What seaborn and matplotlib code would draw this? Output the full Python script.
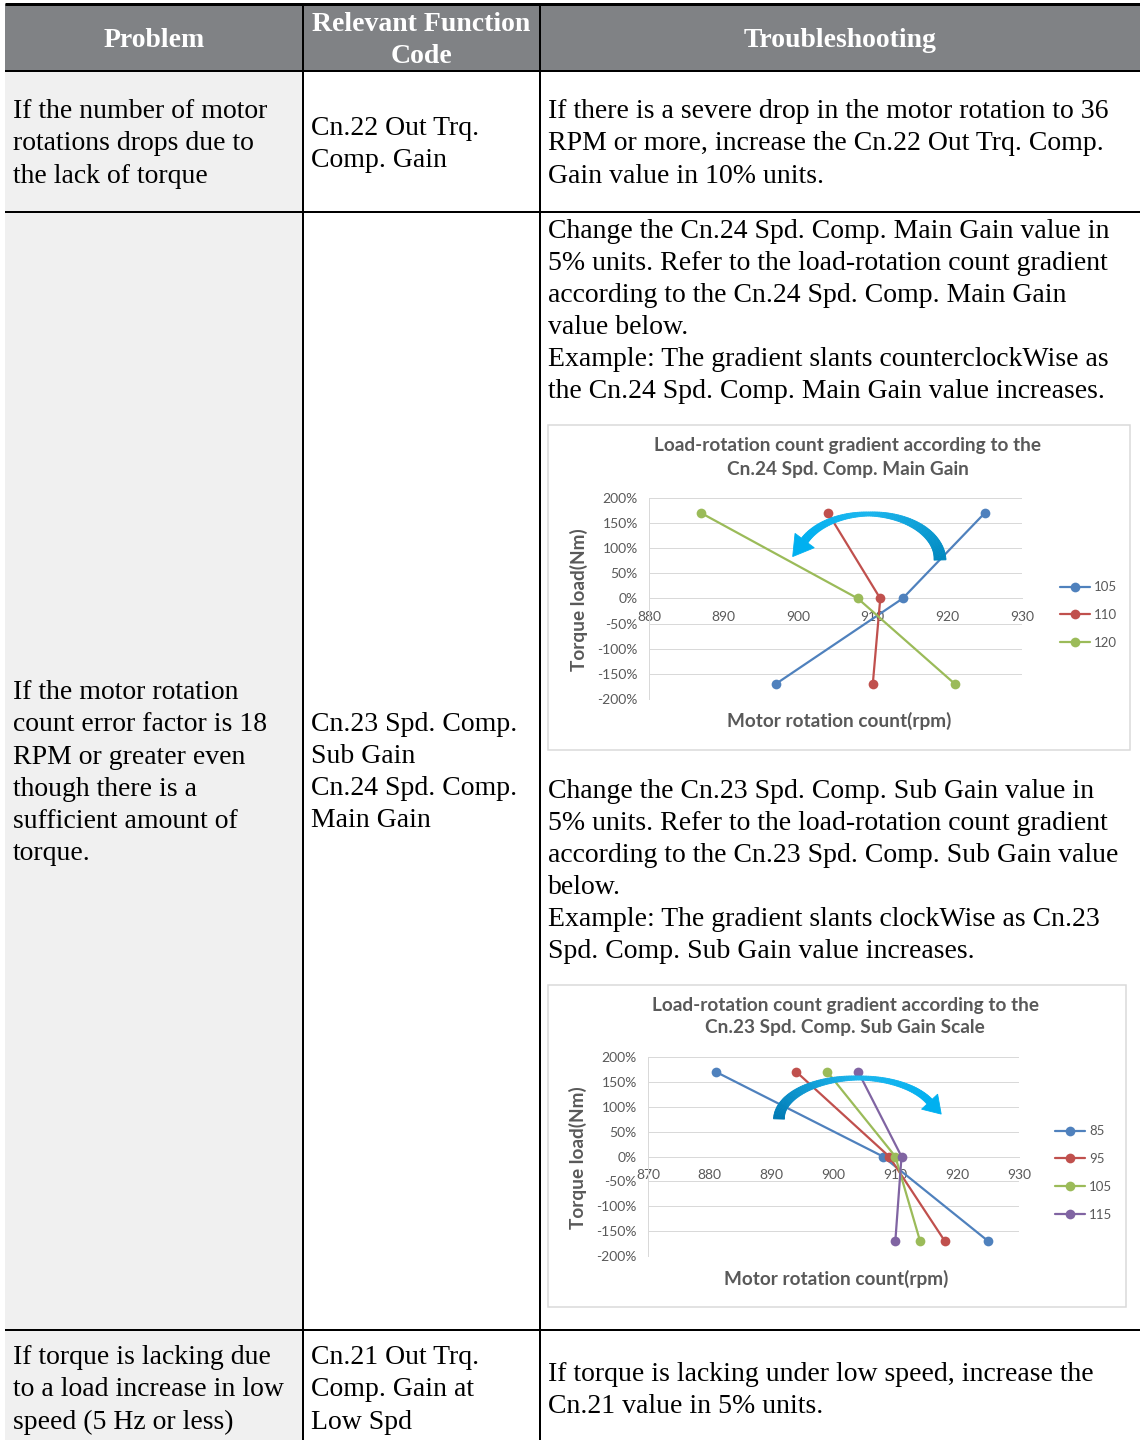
import numpy as np
import pandas as pd
import seaborn as sns
import matplotlib.pyplot as plt
from matplotlib.lines import Line2D
from matplotlib.patches import Rectangle, Polygon
from matplotlib.ticker import FuncFormatter, MultipleLocator
from matplotlib.colors import to_rgb

# --- chart 1: Cn.24 Spd. Comp. Main Gain ---
main_gains = ["105", "110", "120"]
main_load = [170, 0, -170]
main_rpm_105 = [925, 914, 897]
main_rpm_110 = [904, 911, 910]
main_rpm_120 = [887, 908, 921]

# --- chart 2: Cn.23 Spd. Comp. Sub Gain Scale ---
sub_gains = ["85", "95", "105", "115"]
sub_load = [170, 0, -170]
sub_rpm_85 = [881, 908, 925]
sub_rpm_95 = [894, 909, 918]
sub_rpm_105 = [899, 910, 914]
sub_rpm_115 = [904, 911, 910]

main_colors = ["#4F81BD", "#C0504D", "#9BBB59"]
sub_colors = ["#4F81BD", "#C0504D", "#9BBB59", "#8064A2"]

# table texts
header_problem = "Problem"
header_code = ["Relevant Function", "Code"]
header_fix = "Troubleshooting"
row1_problem = ["If the number of motor", "rotations drops due to", "the lack of torque"]
row1_code = ["Cn.22 Out Trq.", "Comp. Gain"]
row1_fix = ["If there is a severe drop in the motor rotation to 36",
            "RPM or more, increase the Cn.22 Out Trq. Comp.",
            "Gain value in 10% units."]
row2_problem = ["If the motor rotation", "count error factor is 18", "RPM or greater even",
                "though there is a", "sufficient amount of", "torque."]
row2_code = ["Cn.23 Spd. Comp.", "Sub Gain", "Cn.24 Spd. Comp.", "Main Gain"]
row2_fix_a = ["Change the Cn.24 Spd. Comp. Main Gain value in",
              "5% units. Refer to the load-rotation count gradient",
              "according to the Cn.24 Spd. Comp. Main Gain",
              "value below.",
              "Example: The gradient slants counterclockWise as",
              "the Cn.24 Spd. Comp. Main Gain value increases."]
row2_fix_b = ["Change the Cn.23 Spd. Comp. Sub Gain value in",
              "5% units. Refer to the load-rotation count gradient",
              "according to the Cn.23 Spd. Comp. Sub Gain value",
              "below.",
              "Example: The gradient slants clockWise as Cn.23",
              "Spd. Comp. Sub Gain value increases."]
row3_problem = ["If torque is lacking due", "to a load increase in low", "speed (5 Hz or less)"]
row3_code = ["Cn.21 Out Trq.", "Comp. Gain at", "Low Spd"]
row3_fix = ["If torque is lacking under low speed, increase the", "Cn.21 value in 5% units."]

title_main = ["Load-rotation count gradient according to the", "Cn.24 Spd. Comp. Main Gain"]
title_sub = ["Load-rotation count gradient according to the", "Cn.23 Spd. Comp. Sub Gain Scale"]

sns.set_style("white")
plt.rcParams["font.family"] = ["Liberation Serif", "DejaVu Serif"]

FW, FH = 1140, 1440
fig = plt.figure(figsize=(FW / 100, FH / 100), dpi=100)
page = fig.add_axes([0, 0, 1, 1])
page.set_xlim(0, FW)
page.set_ylim(FH, 0)
page.axis("off")

PX = 0.72  # one pixel in points

# backgrounds
page.add_patch(Rectangle((5, 4), FW - 5, 67, fc="#808285", ec="none"))
page.add_patch(Rectangle((5, 71), 298, FH - 71, fc="#F0F0F0", ec="none"))
# rules
page.plot([5, FW], [4, 4], color="black", lw=3 * PX, solid_capstyle="butt")
for yy in [71, 212, 1330]:
    page.plot([5, FW], [yy, yy], color="black", lw=2 * PX, solid_capstyle="butt")
for xx in [303, 540]:
    page.plot([xx, xx], [4, FH], color="black", lw=2 * PX, solid_capstyle="butt")

serif = dict(fontsize=20, color="black", va="baseline", ha="left")


def put_lines(x, y0, step, lines, **kw):
    opts = dict(serif)
    opts.update(kw)
    for i, s in enumerate(lines):
        page.text(x, y0 + i * step, s, **opts)


hdr = dict(color="white", fontweight="bold", ha="center")
put_lines(154, 47, 0, [header_problem], **hdr)
put_lines(421, 31, 32, header_code, **hdr)
put_lines(840, 47, 0, [header_fix], **hdr)

put_lines(13, 118, 32.5, row1_problem)
put_lines(311, 135, 32, row1_code)
put_lines(548, 118, 32.5, row1_fix)

put_lines(13, 699, 32.3, row2_problem)
put_lines(311, 731, 32, row2_code)
put_lines(548, 238, 32, row2_fix_a)
put_lines(548, 798, 32, row2_fix_b)

put_lines(13, 1364, 32.5, row3_problem)
put_lines(311, 1364, 32.5, row3_code)
put_lines(548, 1381, 32, row3_fix)

GREY = "#595959"
sans = ["Lato", "DejaVu Sans"]


def curved_arrow(ax, cx, cy, a, b, t0, t1, widths, colors, head_w, head_l):
    # geometry in pixels measured from the plot's top-left corner
    pos = ax.get_position()
    W, H = pos.width * FW, pos.height * FH
    th = np.radians(np.linspace(t0, t1, 90))
    x = cx + a * np.cos(th)
    y = (H - cy) + b * np.sin(th)
    s = np.linspace(0, 1, len(th))
    s_apex = (90 - t0) / (t1 - t0)
    w = np.interp(s, [0, s_apex, 1], widths)
    tx, ty = np.gradient(x), np.gradient(y)
    norm = np.hypot(tx, ty)
    tx, ty = tx / norm, ty / norm
    nx, ny = -ty, tx
    ox, oy = x + nx * w / 2, y + ny * w / 2
    ix, iy = x - nx * w / 2, y - ny * w / 2
    cs = [np.array(to_rgb(c)) for c in colors]
    for i in range(len(th) - 1):
        si = s[i]
        if si <= s_apex:
            f = si / s_apex
            col = cs[0] * (1 - f) + cs[1] * f
        else:
            f = (si - s_apex) / (1 - s_apex)
            col = cs[1] * (1 - f) + cs[2] * f
        quad = np.array([[ox[i], oy[i]], [ox[i + 1], oy[i + 1]],
                         [ix[i + 1], iy[i + 1]], [ix[i], iy[i]]])
        quad[:, 0] /= W
        quad[:, 1] /= H
        ax.add_patch(Polygon(quad, closed=True, fc=col, ec=col, lw=0.6,
                             transform=ax.transAxes, clip_on=False, zorder=6))
    ex, ey = x[-1], y[-1]
    ux, uy = tx[-1], ty[-1]
    tri = np.array([[ex + nx[-1] * head_w, ey + ny[-1] * head_w],
                    [ex - nx[-1] * head_w, ey - ny[-1] * head_w],
                    [ex + ux * head_l, ey + uy * head_l]])
    tri[:, 0] /= W
    tri[:, 1] /= H
    ax.add_patch(Polygon(tri, closed=True, fc=cs[2], ec=cs[2], lw=0.6,
                         transform=ax.transAxes, clip_on=False, zorder=6))


def draw_chart(box, plot, xmin, xmax, gains, rpms, load, colors, titles, title_x, title_y,
               legend_xy, xlabel_xy, ylabel_xy):
    bx, by, bw, bh = box
    page.add_patch(Rectangle((bx, by), bw, bh, fc="white", ec="#D9D9D9", lw=1.5 * PX))
    for i, t in enumerate(titles):
        page.text(title_x, title_y + i * 23, t, ha="center", va="center", fontsize=13.7,
                  fontweight="bold", color=GREY, family=sans)

    px0, py0, px1, py1 = plot
    ax = fig.add_axes([px0 / FW, 1 - py1 / FH, (px1 - px0) / FW, (py1 - py0) / FH])
    ax.set_facecolor("none")

    frame = pd.DataFrame({
        "gain": np.repeat(gains, len(load)),
        "rpm": np.concatenate(rpms),
        "load": np.tile(load, len(gains)),
    })
    sns.lineplot(data=frame, x="rpm", y="load", hue="gain", palette=colors, sort=False,
                 estimator=None, marker="o", markersize=7, markeredgewidth=0,
                 linewidth=1.6, legend=False, ax=ax, zorder=4)

    ax.set_xlim(xmin, xmax)
    ax.set_ylim(-200, 200)
    ax.xaxis.set_major_locator(MultipleLocator(10))
    ax.yaxis.set_major_locator(MultipleLocator(50))
    ax.yaxis.set_major_formatter(FuncFormatter(lambda v, p: f"{v:.0f}%"))
    ax.grid(axis="y", color="#D9D9D9", lw=1 * PX)
    ax.grid(axis="x", visible=False)
    ax.spines["bottom"].set_position(("data", 0))
    for side in ["top", "right"]:
        ax.spines[side].set_visible(False)
    for side in ["left", "bottom"]:
        ax.spines[side].set_color("#D9D9D9")
        ax.spines[side].set_linewidth(1 * PX)
    ax.tick_params(axis="both", length=0, labelsize=10, labelcolor=GREY)
    ax.tick_params(axis="x", pad=9)
    ax.tick_params(axis="y", pad=8)
    for lab in ax.get_xticklabels() + ax.get_yticklabels():
        lab.set_family(sans)

    ax.set_xlabel("Motor rotation count(rpm)", fontsize=13.7, fontweight="bold", color=GREY,
                  family=sans)
    ax.set_ylabel("Torque load(Nm)", fontsize=13.7, fontweight="bold", color=GREY, family=sans)
    ax.xaxis.label.set_va("center")
    ax.yaxis.label.set_va("center")
    ax.xaxis.set_label_coords((xlabel_xy[0] - px0) / (px1 - px0),
                              (py1 - xlabel_xy[1]) / (py1 - py0))
    ax.yaxis.set_label_coords((ylabel_xy[0] - px0) / (px1 - px0),
                              (py1 - ylabel_xy[1]) / (py1 - py0))

    handles = [Line2D([], [], color=c, marker="o", markersize=7, mew=0, lw=1.6)
               for c in colors]
    ax.legend(handles, gains, loc="center left",
              bbox_to_anchor=(legend_xy[0] / FW, 1 - legend_xy[1] / FH),
              bbox_transform=fig.transFigure, frameon=False,
              labelcolor=GREY, handlelength=2.3, handletextpad=0.3, labelspacing=1.2,
              borderpad=0, borderaxespad=0, prop={"family": sans, "size": 9.5})
    return ax


ax1 = draw_chart((548, 425, 582, 325), (649, 498, 1022, 699), 880, 930, main_gains,
                 [main_rpm_105, main_rpm_110, main_rpm_120], main_load, main_colors,
                 title_main, 848, 446, (1060, 615), (839, 721), (579, 600))
curved_arrow(ax1, 220, 62, 71, 46, 0, 155, [12, 4, 8],
             ["#0088BF", "#1CB6EE", "#00B0F0"], 12, 20)

ax2 = draw_chart((548, 985, 578, 322), (648, 1057, 1019, 1256), 870, 930, sub_gains,
                 [sub_rpm_85, sub_rpm_95, sub_rpm_105, sub_rpm_115], sub_load, sub_colors,
                 title_sub, 845, 1005, (1055, 1173), (836, 1279), (578, 1158))
curved_arrow(ax2, 210, 62, 79, 41, 180, 25, [11, 4, 7],
             ["#0079B3", "#1CB6EE", "#00B0F0"], 11, 17)

fig.savefig("out.png", dpi=100)
